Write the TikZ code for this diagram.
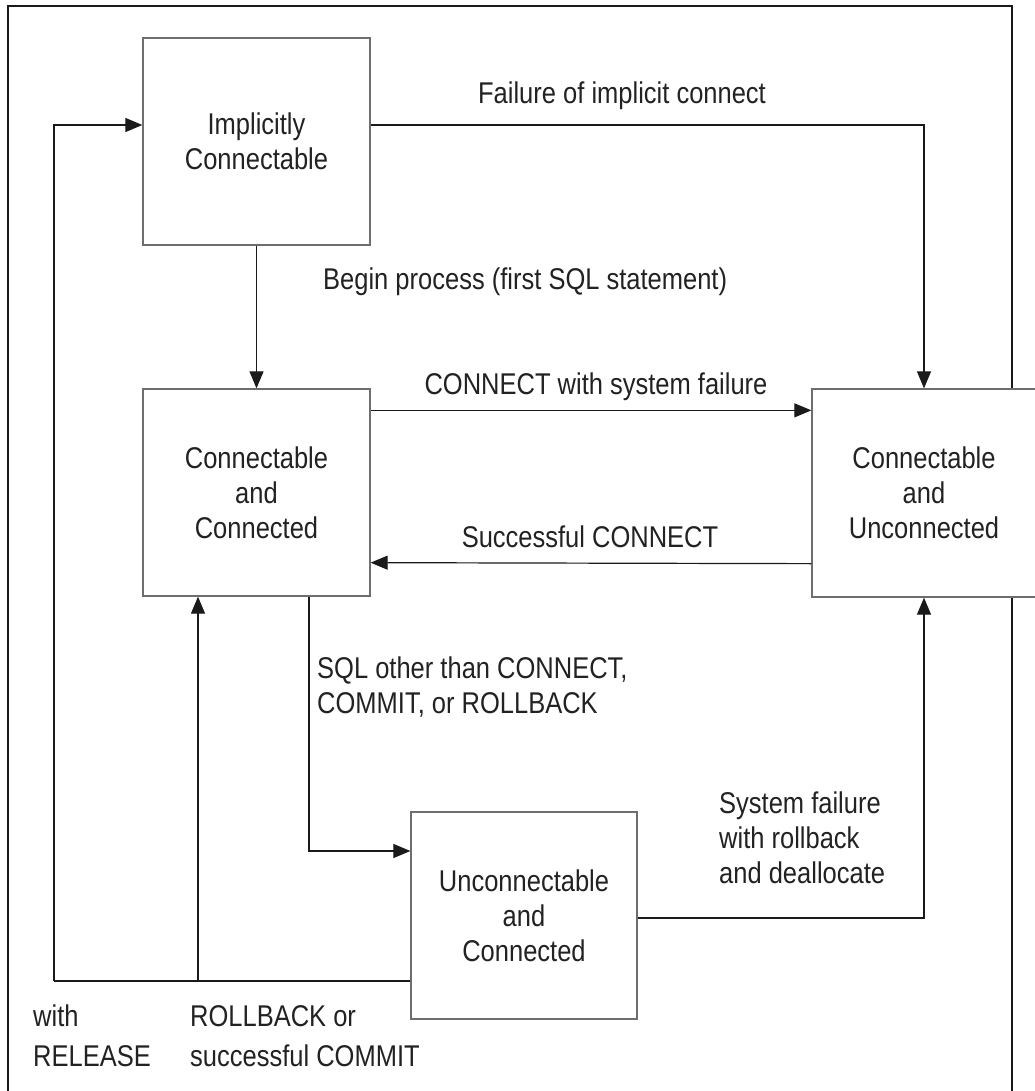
\documentclass[tikz,border=0pt]{standalone}
\usepackage{fontspec}
\setmainfont{Liberation Sans}[FakeStretch=0.85]
\usetikzlibrary{positioning,arrows.meta,calc}
\definecolor{cFrame}{HTML}{1A1A1A}
\definecolor{cBox}{HTML}{6E6E6E}
\definecolor{cText}{HTML}{222222}

\begin{document}
\begin{tikzpicture}[x=1pt,y=-1pt,
      font=\fontsize{30}{35}\selectfont,
      state/.style={draw=cBox,fill=white,line width=1.3pt,minimum width=227pt,
        minimum height=207pt,align=center,inner sep=0pt,text=cText},
      conn/.style={draw=cFrame,line width=1.2pt},
      arr/.style={conn,-{Triangle[length=17pt,width=14pt]}},
      lbl/.style={text=cText,inner sep=0pt},
      note/.style={lbl,anchor=west,align=left}]
    \useasboundingbox (0,0) rectangle (1034,1091);
    \draw[cFrame,line width=2pt] (8,1091) -- (8,6) -- (1012,6) -- (1012,1091);
    \node[state] (ic) at (256.5,141.5) {Implicitly\\Connectable};
    \node[state] (cc) at (256.5,492.5) {Connectable\\and\\Connected};
    \node[state,minimum width=224pt,minimum height=208pt] (cu) at (924,493) {Connectable\\and\\Unconnected};
    \node[state,minimum width=226pt] (uc) at (524,915.5) {Unconnectable\\and\\Connected};
    \draw[arr] ([yshift=16.5pt]ic.east) -| (cu.north);
    \node[lbl] (tFail) at (622,96) {Failure of implicit connect};
    \draw[arr] (ic) -- (cc);
    \node[lbl,anchor=west] (tBegin) at (323,282) {Begin process (first SQL statement)};
    \draw[arr] ([yshift=-22pt]cc.north east) -- ([yshift=-22pt]cu.north west);
    \node[lbl] (tConFail) at (596,387) {CONNECT with system failure};
    \draw[arr] ([yshift=34pt]cu.south west) -- ([yshift=34pt]cc.south east);
    \node[lbl] (tConOk) at (590,537) {Successful CONNECT};
    \draw[arr] ([xshift=52.5pt]cc.south) |- ([yshift=64.5pt]uc.west);
    \node[note] (tSql) at (317,687.5) {SQL other than CONNECT,\\COMMIT, or ROLLBACK};
    \draw[arr] ([yshift=-2.5pt]uc.east) -| (cu.south);
    \node[note] (tSys) at (719,838) {System failure\\with rollback\\and deallocate};
    \coordinate (lpL) at (54,981);
    \coordinate (lpB) at (198,981);
    \draw[conn] ([yshift=-65.5pt]uc.west) -- (lpL);
    \draw[arr] (lpL) |- ([yshift=16.5pt]ic.west);
    \draw[arr] (lpB) -- (lpB |- cc.south);
    \node[note,font=\fontsize{30}{40}\selectfont] (tRel) at (33,1036) {with\\RELEASE};
    \node[note,font=\fontsize{30}{40}\selectfont] (tRb) at (190,1036) {ROLLBACK or\\successful COMMIT};
  \end{tikzpicture}
\end{document}
